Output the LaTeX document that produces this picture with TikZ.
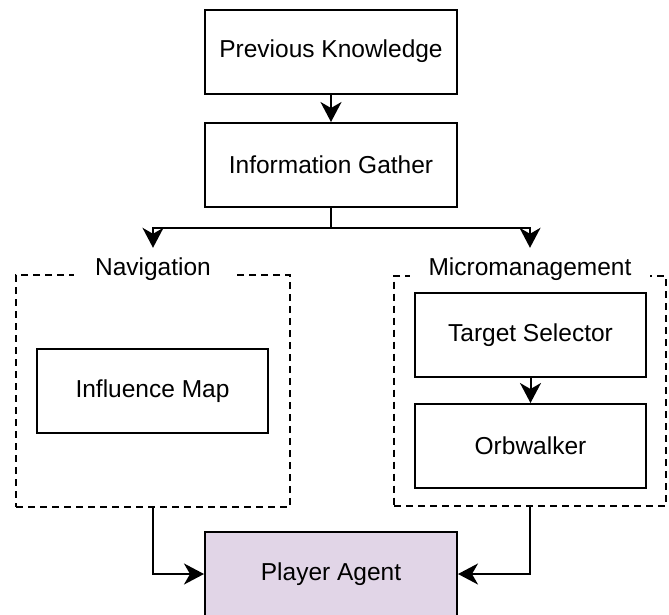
\documentclass[tikz,border=0pt]{standalone}
\usepackage{fontspec}
\setmainfont{Liberation Sans}
\usetikzlibrary{arrows.meta}
\definecolor{agentfill}{HTML}{E1D5E7}
\begin{document}
\begin{tikzpicture}[x=1pt,y=-1pt,
  labelfont/.style={font=\fontsize{24.5}{29}\selectfont},
  box/.style={draw, line width=2pt, minimum width=252pt, minimum height=84pt,
    inner sep=0pt, labelfont},
  subbox/.style={box, minimum width=231pt},
  group/.style={draw, line width=2pt, dash pattern=on 7pt off 5pt, inner sep=0pt},
  grouplabel/.style={fill=white, inner sep=0pt, minimum height=42pt, labelfont},
  arr/.style={line width=2pt, -{Stealth[length=20pt,width=21pt,inset=6pt]}},
]
\useasboundingbox (0,0) rectangle (669,614);

% top chain
\node[box] (pk) at (331,51.5) {Previous Knowledge};
\node[box] (ig) at (331,165) {Information Gather};

% dashed groups
\node[group, minimum width=274pt, minimum height=232pt] (nav) at (153,391) {};
\node[group, minimum width=272pt, minimum height=230pt] (micro) at (530,390.5) {};
\node[grouplabel, minimum width=158pt] (navlabel) at (153,269) {Navigation};
\node[grouplabel, minimum width=240pt] (microlabel) at (530,269) {Micromanagement};

% inner modules
\node[subbox] (im) at (152.5,391) {Influence Map};
\node[subbox] (ts) at (530.5,335) {Target Selector};
\node[subbox] (orb) at (530.5,446) {Orbwalker};

% output
\node[box, fill=agentfill] (pa) at (331,574) {Player Agent};

% connectors
\coordinate (split) at (331,228);
\draw[arr] (pk) -- (ig);
\draw[line width=2pt] (ig.south) -- (split);
\draw[arr] (split) -| (navlabel.north);
\draw[arr] (split) -| (microlabel.north);
\draw[arr] (ts) -- (orb);
\draw[arr] (nav.south) |- (pa.west);
\draw[arr] (micro.south) |- (pa.east);
\end{tikzpicture}
\end{document}
